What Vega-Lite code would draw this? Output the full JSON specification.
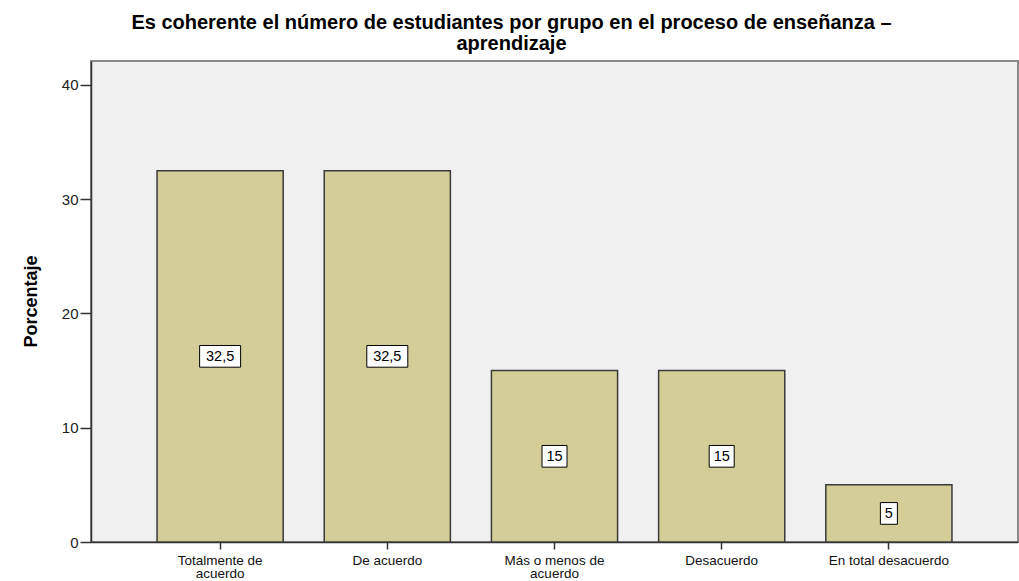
{
  "$schema": "https://vega.github.io/schema/vega-lite/v6.json",
  "autosize": "none",
  "width": 927,
  "height": 481,
  "padding": {"left": 91, "top": 61, "right": 1, "bottom": 39},
  "background": "white",
  "title": {
    "text": ["Es coherente el número de estudiantes por grupo en el proceso de enseñanza –", "aprendizaje"],
    "font": "Liberation Sans",
    "fontSize": 20,
    "fontWeight": "bold",
    "color": "#000000",
    "anchor": "middle",
    "dx": -43,
    "lineHeight": 21,
    "offset": 7
  },
  "data": {
    "values": [
      {"categoria": "Totalmente de acuerdo", "porcentaje": 32.5, "etiqueta": "32,5"},
      {"categoria": "De acuerdo", "porcentaje": 32.5, "etiqueta": "32,5"},
      {"categoria": "Más o menos de acuerdo", "porcentaje": 15, "etiqueta": "15"},
      {"categoria": "Desacuerdo", "porcentaje": 15, "etiqueta": "15"},
      {"categoria": "En total desacuerdo", "porcentaje": 5, "etiqueta": "5"}
    ]
  },
  "encoding": {
    "x": {
      "field": "categoria",
      "type": "nominal",
      "sort": null,
      "scale": {"paddingInner": 0.2455, "paddingOuter": 0.395},
      "axis": {
        "title": null,
        "labelAngle": 0,
        "labelFont": "Liberation Sans",
        "labelFontSize": 13.5,
        "labelColor": "#111111",
        "labelLineHeight": 13,
        "labelPadding": 4,
        "tickSize": 7,
        "tickColor": "#333333",
        "tickWidth": 1.5,
        "domainColor": "#333333",
        "domainWidth": 1.5,
        "labelExpr": "datum.value == 'Totalmente de acuerdo' ? ['Totalmente de', 'acuerdo'] : datum.value == 'Más o menos de acuerdo' ? ['Más o menos de', 'acuerdo'] : datum.value"
      }
    }
  },
  "layer": [
    {
      "mark": {"type": "bar", "color": "#d3ce97", "stroke": "#3a3a3a", "strokeWidth": 1.5},
      "encoding": {
        "y": {
          "field": "porcentaje",
          "type": "quantitative",
          "scale": {"domain": [0, 42.1], "nice": false},
          "axis": {
            "title": "Porcentaje",
            "titleFont": "Liberation Sans",
            "titleFontSize": 18,
            "titleFontWeight": "bold",
            "titleColor": "#000000",
            "titleX": -60,
            "titleY": 240,
            "titleAngle": 270,
            "titleAlign": "center",
            "titleBaseline": "middle",
            "values": [0, 10, 20, 30, 40],
            "grid": false,
            "labelFont": "Liberation Sans",
            "labelFontSize": 15,
            "labelColor": "#222222",
            "labelPadding": 2,
            "tickSize": 11,
            "tickColor": "#333333",
            "tickWidth": 1.5,
            "domainColor": "#333333",
            "domainWidth": 1.5
          }
        }
      }
    },
    {
      "transform": [
        {"calculate": "datum.porcentaje / 2 - 0.95", "as": "caja_inf"},
        {"calculate": "datum.porcentaje / 2 + 0.95", "as": "caja_sup"},
        {"calculate": "length(datum.etiqueta) * 8 + 9", "as": "caja_ancho"}
      ],
      "mark": {"type": "bar", "color": "#ffffff", "stroke": "#000000", "strokeWidth": 1},
      "encoding": {
        "y": {"field": "caja_inf", "type": "quantitative"},
        "y2": {"field": "caja_sup"},
        "size": {"field": "caja_ancho", "type": "quantitative", "scale": null, "legend": null}
      }
    },
    {
      "transform": [
        {"calculate": "datum.porcentaje / 2", "as": "medio"}
      ],
      "mark": {"type": "text", "font": "Liberation Sans", "fontSize": 14.5, "color": "#000000", "baseline": "middle", "align": "center", "dy": 1},
      "encoding": {
        "y": {"field": "medio", "type": "quantitative"},
        "text": {"field": "etiqueta", "type": "nominal"}
      }
    }
  ],
  "config": {
    "view": {"fill": "#f0f0f0", "stroke": "#8a8a8a", "strokeWidth": 2}
  }
}
